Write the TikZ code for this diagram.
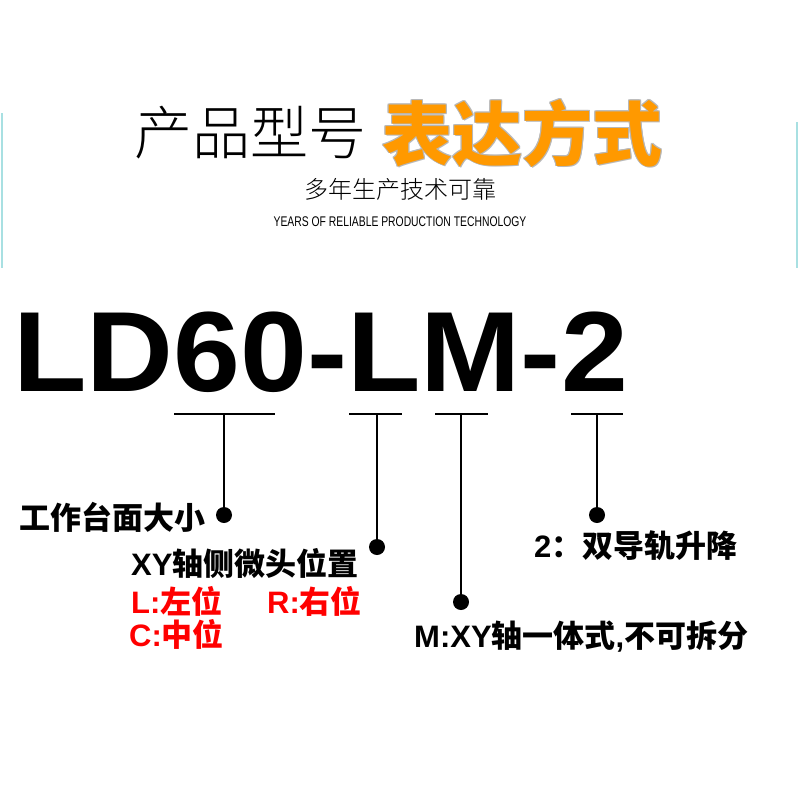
\documentclass[tikz,border=0pt]{standalone}
\usepackage{fontspec}
\setmainfont{Liberation Sans}
\newfontfamily\cjk{Noto Sans CJK SC}
\newfontfamily\cjkthin{Noto Sans CJK SC Light}
\usetikzlibrary{positioning}

\definecolor{titleorange}{RGB}{255,153,0}
\definecolor{edgeteal}{RGB}{168,224,226}
\definecolor{optred}{RGB}{255,0,0}

\newcommand{\latpart}[1]{{\rmfamily\bfseries #1}}

\tikzset{
	desc/.style={font=\cjk\bfseries\fontsize{31}{33}\selectfont, inner sep=0pt, anchor=west},
	opt/.style={desc, text=optred},
	hl/.style={font=\cjk\bfseries\fontsize{70}{72}\selectfont, inner sep=0pt, anchor=west},
	bar/.style={line width=1.4pt},
	dot/.style={circle, fill=black, inner sep=0pt, minimum size=16pt}
}

\begin{document}
\begin{tikzpicture}[x=1pt, y=-1pt]
				\useasboundingbox[fill=white] (0,0) rectangle (800,800);
				\draw[edgeteal, line width=1.5pt] (2,113) -- (2,268);
				\draw[edgeteal, line width=1.5pt] (797,122) -- (797,268);
				% Heading
				\node[font=\cjkthin\fontsize{58}{60}\selectfont, inner sep=0pt] (title) at (250,133) {产品型号};
				\coordinate[right=16pt of title] (hlpos);
				\foreach \dx/\dy in {-0.8/0, 0.8/0, 0/-0.8, 0/0.8, 1/1, -0.6/-0.6, 0.6/-0.6, -0.6/0.6}
					\node[hl, text=black!28, shift={(\dx,\dy)}] at (hlpos) {表达方式};
				\node[hl, text=titleorange] (titlehl) at (hlpos) {表达方式};
				\node[font=\cjkthin\fontsize{24}{26}\selectfont, inner sep=0pt] (slogan) at (400,189) {多年生产技术可靠};
				\node[font=\fontsize{14}{16}\selectfont, inner sep=0pt] (sloganen) at (400,222) {\scalebox{0.74}[1]{YEARS OF RELIABLE PRODUCTION TECHNOLOGY}};
				% Model code
				\node[font=\bfseries\fontsize{114}{120}\selectfont, anchor=base west, inner sep=0pt] (code) at (13,391) {\scalebox{1.055}[1]{LD60-LM-2}};
				\foreach \n/\xl/\xm/\xr in {1/174/224/275, 2/349/377/402, 3/435/461/488, 4/571/597/623}{
					\coordinate (bar\n) at (\xm,414);
					\draw[bar] (\xl,414) -- (\xr,414);
				}
				\node[dot] (dot1) at (224,515) {};
				\node[dot] (dot2) at (377,547) {};
				\node[dot] (dot3) at (461,602) {};
				\node[dot] (dot4) at (597,515) {};
				\foreach \n in {1,...,4}
					\draw[bar] (bar\n) -- (dot\n);
				% Meaning of each part
				\node[desc] (size) at (19,517) {工作台面大小};
				\node[desc] (micro) at (131,563) {\latpart{XY}轴侧微头位置};
				\node[opt] (optL) at (131,601) {\latpart{L:}左位};
				\node[opt] (optR) at (267,601) {\latpart{R:}右位};
				\node[opt] (optC) at (129,634) {\latpart{C:}中位};
				\node[desc] (rail) at (534,546) {\latpart{2}：双导轨升降};
				\node[desc] (mono) at (414,637) {\latpart{M:XY}轴一体式\latpart{,}不可拆分};
			\end{tikzpicture}
\end{document}
